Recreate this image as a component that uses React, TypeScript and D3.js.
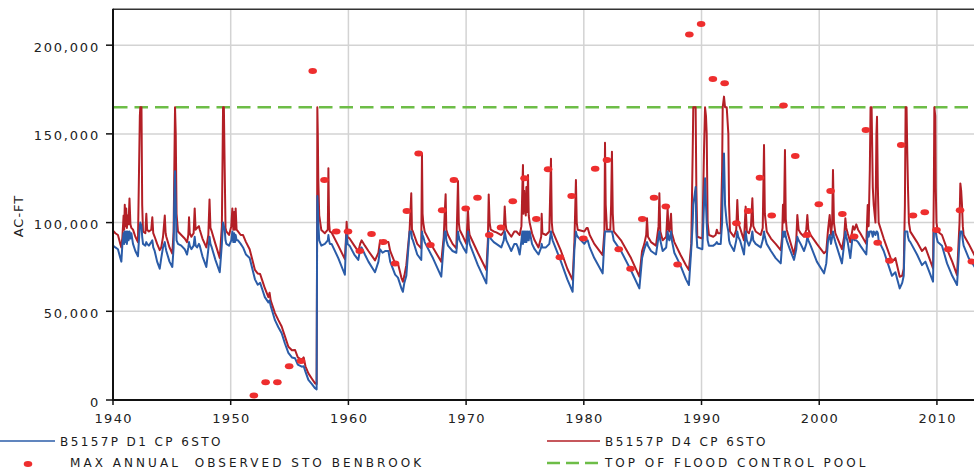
import React from "react";
import * as d3 from "d3";

// [decimal year, B5157P D1 storage, B5157P D4 storage] in 1,000 ac-ft
type Row = [number, number, number];

const rows1940s: Row[] = [
  [1940.0, 87, 95.5], [1940.2, 86, 94], [1940.42, 85, 93], [1940.62, 80, 88], [1940.71, 78, 86],
  [1940.8, 88, 92], [1940.9, 94, 104], [1940.95, 88, 96], [1941.0, 95, 110], [1941.06, 89, 98],
  [1941.12, 95, 108], [1941.18, 88, 97], [1941.25, 95, 104], [1941.32, 90, 99], [1941.4, 95, 113.6],
  [1941.48, 91, 99], [1941.56, 94, 97], [1941.7, 88, 96], [1941.9, 84, 92], [1942.12, 81, 89],
  [1942.28, 98, 160], [1942.32, 100, 165], [1942.42, 98, 165], [1942.48, 92, 110], [1942.55, 88, 95],
  [1942.75, 87, 94], [1942.83, 89, 105], [1942.9, 88, 96], [1943.05, 87, 95], [1943.25, 89, 96],
  [1943.34, 90, 103], [1943.42, 86, 94], [1943.54, 84, 92], [1943.75, 78, 88], [1943.97, 74, 84.5],
  [1944.1, 80, 86], [1944.25, 86, 92], [1944.4, 89, 104], [1944.47, 86, 94], [1944.53, 84, 92],
  [1944.8, 78, 86], [1945.04, 75, 82.6], [1945.15, 86, 95], [1945.2, 110, 125], [1945.27, 129, 165],
  [1945.33, 110, 150], [1945.4, 90, 105], [1945.52, 88, 95], [1945.8, 87, 93], [1946.09, 85, 91],
  [1946.29, 82, 89], [1946.4, 86, 93], [1946.46, 89, 103], [1946.52, 87, 94], [1946.66, 85, 92],
  [1946.85, 87, 94], [1946.94, 92, 108], [1947.02, 87, 96], [1947.14, 86, 97], [1947.3, 88, 98],
  [1947.37, 87, 96], [1947.6, 81, 91], [1947.93, 75, 86], [1948.1, 85, 93], [1948.2, 92, 113],
  [1948.28, 88, 97], [1948.39, 86, 95], [1948.7, 79, 88], [1949.07, 72, 80], [1949.25, 88, 98],
  [1949.35, 100, 165], [1949.42, 98, 165], [1949.49, 96, 130], [1949.56, 90, 97], [1949.63, 88, 95],
  [1949.86, 87, 93],
];

const rows1950s: Row[] = [
  [1950.05, 90, 98], [1950.14, 95, 108], [1950.22, 89, 96], [1950.3, 94, 106], [1950.36, 89, 96],
  [1950.42, 93, 108], [1950.5, 90, 96], [1950.62, 90, 95], [1950.85, 88, 93], [1951.05, 86, 93],
  [1951.3, 82, 89], [1951.61, 80, 85], [1951.8, 75, 80], [1952.06, 68, 73.3], [1952.3, 65, 71.3],
  [1952.5, 66, 71], [1952.7, 62, 67], [1952.9, 58, 63], [1953.2, 55, 58], [1953.3, 56, 60.5],
  [1953.4, 53, 56], [1953.76, 45, 49], [1954.05, 41, 45], [1954.33, 37.6, 41.4], [1954.6, 32, 36],
  [1954.9, 26.6, 30], [1955.2, 24, 28], [1955.47, 23.5, 28.2], [1955.7, 20, 24], [1956.04, 18.8, 22.6],
  [1956.2, 19, 24], [1956.35, 16, 19], [1956.6, 11.3, 15], [1956.9, 9, 12], [1957.17, 6.6, 9.4],
  [1957.3, 6, 9], [1957.34, 90, 95], [1957.36, 115, 165], [1957.4, 110, 150], [1957.44, 100, 125],
  [1957.52, 90, 104], [1957.7, 87, 95.8], [1958.0, 88, 94], [1958.25, 90, 96], [1958.3, 93, 130.6],
  [1958.36, 90, 100], [1958.42, 88, 95], [1958.57, 88, 94.4], [1959.14, 80, 87], [1959.7, 70.6, 79.4],
  [1959.8, 90, 92], [1959.85, 94, 100.5], [1959.92, 88, 92],
];

const rows1960s: Row[] = [
  [1960.1, 87, 91], [1960.5, 82, 87], [1960.84, 79, 83.7], [1961.0, 85, 88], [1961.12, 86, 90],
  [1961.4, 82, 87], [1961.7, 78, 84], [1962.26, 72, 78.7], [1962.55, 78, 83], [1962.69, 85, 90],
  [1962.9, 83, 88], [1963.15, 84, 89], [1963.4, 84, 89], [1963.55, 78, 84], [1963.97, 70.7, 77],
  [1964.21, 69, 77], [1964.5, 63, 69], [1964.63, 61, 66.7], [1964.75, 66, 70], [1964.92, 70, 76],
  [1965.2, 95, 95.8], [1965.34, 95, 116.5], [1965.4, 91, 96], [1965.48, 90, 95], [1965.85, 82, 88],
  [1966.19, 78.9, 85.5], [1966.25, 95, 139], [1966.3, 93, 105], [1966.36, 92, 100], [1966.48, 89, 94.9],
  [1967.18, 80, 86], [1967.89, 69.5, 77.9], [1968.1, 88, 92], [1968.18, 95, 105], [1968.26, 95, 116],
  [1968.32, 90, 96], [1968.46, 87, 93], [1968.85, 84, 88], [1969.17, 83, 85.5], [1969.31, 95, 123.4],
  [1969.38, 92, 100], [1969.45, 90, 96], [1969.75, 86, 92],
];

const rows1970s: Row[] = [
  [1970.02, 83, 88], [1970.16, 95, 107], [1970.24, 91, 96], [1970.3, 88, 93], [1971.0, 76, 83],
  [1971.72, 65.7, 73.3], [1971.85, 85, 90], [1971.92, 95, 115.9], [1972.0, 93, 100], [1972.09, 91, 96],
  [1972.35, 89, 95], [1972.57, 88, 94.5], [1972.99, 86, 93], [1973.2, 90, 95], [1973.28, 95, 109],
  [1973.36, 92, 99], [1973.42, 90, 96], [1973.84, 84, 92], [1974.1, 88, 95], [1974.27, 88, 95],
  [1974.4, 86, 94], [1974.55, 82, 93], [1974.7, 90, 98], [1974.78, 95, 120], [1974.83, 88, 132.4],
  [1974.88, 95, 105], [1974.93, 89, 118], [1974.97, 95, 110], [1975.02, 89, 112], [1975.07, 95, 104],
  [1975.12, 89, 120], [1975.17, 95, 106], [1975.22, 90, 115], [1975.26, 95, 126.8], [1975.32, 90, 104],
  [1975.4, 95, 100], [1975.6, 88, 94], [1975.82, 85, 90], [1976.15, 82, 86], [1976.38, 86, 92],
  [1976.42, 88, 105], [1976.48, 86, 94], [1976.78, 86, 93], [1977.07, 88, 95], [1977.21, 95, 136],
  [1977.28, 92, 100], [1977.35, 90, 95], [1978.06, 78, 84], [1978.6, 68, 74], [1979.05, 61, 67.6],
  [1979.2, 85, 89], [1979.33, 95, 124], [1979.4, 93, 100], [1979.48, 92, 96],
];

const rows1980s: Row[] = [
  [1980.04, 88, 95], [1980.25, 90, 97], [1980.33, 90, 97], [1980.5, 86, 93], [1980.89, 80, 88],
  [1981.6, 71.4, 81.7], [1981.75, 90, 95], [1981.8, 95, 145], [1981.86, 95, 110], [1981.97, 95, 96],
  [1982.25, 95, 96], [1982.32, 95, 110], [1982.39, 95, 140], [1982.46, 93, 105], [1982.54, 90, 95],
  [1983.16, 84, 90], [1984.01, 73, 80], [1984.72, 62.9, 69.5], [1984.95, 80, 84], [1985.14, 85, 88],
  [1985.3, 88, 93], [1985.37, 89, 102.4], [1985.45, 87, 92], [1985.71, 84, 89], [1986.13, 82, 87],
  [1986.35, 92, 98], [1986.42, 95, 116.5], [1986.5, 90, 95], [1986.7, 84, 90], [1987.0, 86, 92],
  [1987.12, 95, 108], [1987.2, 91, 96], [1987.27, 90, 95], [1987.41, 95, 105], [1987.48, 90, 94],
  [1987.69, 83, 89], [1988.2, 76, 82], [1988.68, 68, 76], [1988.93, 64.8, 73.3], [1989.13, 85, 88],
  [1989.25, 100, 140], [1989.3, 110, 165], [1989.5, 120, 165], [1989.56, 95, 120], [1989.64, 86, 92],
];

const rows1990s: Row[] = [
  [1990.07, 85, 91], [1990.21, 110, 140], [1990.3, 125, 165], [1990.38, 110, 160], [1990.44, 100, 150],
  [1990.52, 90, 100], [1990.63, 87, 93], [1991.0, 87, 92], [1991.2, 88, 93], [1991.3, 89, 96],
  [1991.4, 88, 94], [1991.63, 88, 94], [1991.75, 100, 130], [1991.8, 120, 165], [1991.91, 139, 171],
  [1992.0, 110, 165], [1992.14, 100, 165], [1992.28, 95, 150], [1992.34, 90, 110], [1992.42, 88, 95],
  [1992.76, 84, 92], [1992.95, 90, 96], [1993.04, 95, 112.7], [1993.12, 92, 100], [1993.27, 90, 97],
  [1993.61, 82, 90], [1993.75, 95, 109], [1993.85, 90, 95], [1994.03, 87, 94], [1994.2, 90, 98],
  [1994.32, 95, 113.7], [1994.4, 90, 98], [1994.6, 88, 95], [1995.03, 86, 93], [1995.2, 90, 97],
  [1995.31, 95, 143.7], [1995.38, 92, 105], [1995.54, 88, 95], [1995.9, 84, 91], [1996.3, 80, 88],
  [1996.73, 77, 84.5], [1996.85, 88, 92], [1996.92, 95, 110], [1997.0, 92, 100], [1997.09, 95, 140.9],
  [1997.16, 92, 102], [1997.24, 90, 96], [1997.5, 85, 90], [1997.86, 79, 82], [1998.05, 85, 90],
  [1998.14, 92, 104.3], [1998.25, 90, 96], [1998.42, 88, 94], [1998.71, 84, 92], [1998.9, 88, 96],
  [1998.99, 92, 104.3], [1999.08, 90, 96], [1999.27, 87, 93], [1999.8, 78, 88],
];

const rows2000s: Row[] = [
  [2000.41, 71.4, 82.7], [2000.6, 77, 84], [2000.75, 90, 96], [2000.89, 93, 104.3], [2001.0, 88, 93],
  [2001.1, 92, 100], [2001.17, 95, 129.6], [2001.25, 92, 100], [2001.37, 89, 94], [2001.93, 77, 85],
  [2002.12, 88, 92], [2002.22, 95, 102.4], [2002.3, 92, 97], [2002.42, 89, 94], [2002.64, 80, 89],
  [2002.8, 90, 95], [2002.87, 92, 98], [2003.0, 90, 96], [2003.15, 90, 99], [2003.3, 89, 96],
  [2003.49, 87, 94], [2004.0, 82, 88], [2004.12, 95, 109.9], [2004.2, 92, 98], [2004.3, 95, 130],
  [2004.36, 95, 165], [2004.45, 95, 165], [2004.55, 92, 120], [2004.63, 95, 110], [2004.78, 93, 100],
  [2004.86, 95, 150], [2004.91, 95, 159.7], [2004.98, 94, 120], [2005.05, 90, 100], [2005.48, 84, 91],
  [2006.18, 70, 77.9], [2006.47, 72, 80], [2006.84, 62.9, 69.5], [2007.05, 66, 70], [2007.18, 70, 74],
  [2007.28, 95, 110], [2007.34, 95, 165], [2007.42, 95, 165], [2007.48, 95, 140], [2007.54, 92, 120],
  [2007.62, 90, 100], [2007.74, 89, 94.9], [2008.31, 82, 89], [2008.73, 76, 84], [2009.02, 78, 86],
  [2009.67, 66.7, 74.2], [2009.74, 95, 120], [2009.78, 95, 165], [2009.86, 95, 160], [2009.9, 95, 120],
  [2009.96, 92, 100],
];

const rows2010s: Row[] = [
  [2010.07, 89, 95], [2010.43, 87, 93], [2010.86, 77, 85], [2011.3, 70, 78], [2011.71, 64.8, 70.4],
  [2011.92, 90, 100], [2011.99, 95, 122.1], [2012.06, 95, 118], [2012.13, 95, 110], [2012.2, 90, 98],
  [2012.27, 87, 93], [2012.7, 80, 88], [2013.12, 76, 82.6], [2013.3, 74, 80],
];

// max annual observed storage at Benbrook, 1952 onward (1,000 ac-ft)
const firstObsYear = 1952;
const observedMax = [
  2.5, 10, 10, 19, 22, 185.5, 124, 95, 95, 84,
  93.5, 89, 77, 106.5, 139, 87.3, 107, 124, 108, 114,
  93, 97.3, 112, 125, 102, 130, 80.4, 115, 91, 130.4,
  135.3, 85, 74, 102, 114, 109, 76.4, 206, 212, 181,
  178.5, 99.6, 106.5, 125.3, 104, 166, 137.5, 93, 110.3, 117.8,
  104.8, 92.2, 152.2, 88.7, 78.5, 143.7, 104, 105.8, 95.8, 85,
  107, 78,
];

const floodPoolTop = 165;
const xTicks = [1940, 1950, 1960, 1970, 1980, 1990, 2000, 2010];
const yTicks = [0, 50, 100, 150, 200];

const seriesLabels = {
  d1: "B5157P D1 CP 6STO",
  d4: "B5157P D4 CP 6STO",
  obs: "MAX ANNUAL  OBSERVED STO BENBROOK",
  pool: "TOP OF FLOOD CONTROL POOL",
};

const W = 974;
const H = 472;
const plot = { left: 113, right: 974, top: 9.7, bottom: 400 };

const BLUE = "#2b5ca8";
const RED = "#b31f26";
const DOT = "#ee2e2e";
const GREEN = "#6dbd47";
const FONT = "'DejaVu Sans', Verdana, sans-serif";

const App = () => {
  const rows = [
    ...rows1940s, ...rows1950s, ...rows1960s, ...rows1970s,
    ...rows1980s, ...rows1990s, ...rows2000s, ...rows2010s,
  ];

  const x = d3.scaleLinear().domain([1940, 2013.15]).range([plot.left, plot.right]);
  const y = d3.scaleLinear().domain([0, 220]).range([plot.bottom, plot.top]);

  const d1Line = d3.line<Row>().x((d) => x(d[0])).y((d) => y(d[1]));
  const d4Line = d3.line<Row>().x((d) => x(d[0])).y((d) => y(d[2]));

  const fmt = d3.format(",");

  return (
    <svg
      width={W}
      height={H}
      style={{ position: "absolute", left: 0, top: 0, background: "#fff" }}
      fontFamily={FONT}
    >
      <defs>
        <clipPath id="plotClip">
          <rect x={plot.left} y={plot.top} width={plot.right - plot.left} height={plot.bottom - plot.top} />
        </clipPath>
      </defs>

      {/* grid */}
      <g stroke="#d3d3d3" strokeWidth={1.5}>
        {yTicks.filter((t) => t > 0).map((t) => (
          <line key={t} x1={plot.left} x2={plot.right} y1={y(t)} y2={y(t)} />
        ))}
        {xTicks.filter((t) => t > 1940).map((t) => (
          <line key={t} x1={x(t)} x2={x(t)} y1={plot.top} y2={plot.bottom} />
        ))}
      </g>

      {/* top of flood control pool */}
      <line
        x1={plot.left + 1}
        x2={plot.right}
        y1={y(floodPoolTop)}
        y2={y(floodPoolTop)}
        stroke={GREEN}
        strokeWidth={2.6}
        strokeDasharray="13.5 7"
      />

      <g clipPath="url(#plotClip)" fill="none" strokeLinejoin="round">
        <path d={d4Line(rows) || ""} stroke={RED} strokeWidth={2} />
        <path d={d1Line(rows) || ""} stroke={BLUE} strokeWidth={2} />
      </g>

      <g fill={DOT}>
        {observedMax.map((v, i) => (
          <ellipse key={i} cx={x(firstObsYear + i) - 0.4} cy={y(v)} rx={4.3} ry={3} />
        ))}
      </g>

      {/* frame and axes */}
      <line x1={plot.left} x2={plot.right} y1={plot.top - 0.5} y2={plot.top - 0.5} stroke="#333" strokeWidth={1.6} />
      <line x1={plot.left} x2={plot.left} y1={plot.top - 1} y2={plot.bottom + 1} stroke="#111" strokeWidth={2} />
      <line x1={plot.left - 1} x2={plot.right} y1={plot.bottom} y2={plot.bottom} stroke="#111" strokeWidth={2} />

      <g fontSize={13} fill="#222">
        {yTicks.map((t) => (
          <g key={t}>
            <line x1={plot.left - 7} x2={plot.left} y1={y(t)} y2={y(t)} stroke="#111" strokeWidth={1.5} />
            <text x={plot.left - 13} y={y(t) + 6.5} textAnchor="end" letterSpacing={1.8}>
              {fmt(t * 1000)}
            </text>
          </g>
        ))}
        {xTicks.map((t) => (
          <g key={t}>
            <line x1={x(t)} x2={x(t)} y1={plot.bottom} y2={plot.bottom + 5} stroke="#111" strokeWidth={1.5} />
            <text x={x(t) + 0.7} y={plot.bottom + 23} textAnchor="middle" letterSpacing={1.3}>
              {t}
            </text>
          </g>
        ))}
        <text transform="translate(23,216) rotate(-90)" textAnchor="middle" letterSpacing={1}>
          AC-FT
        </text>
      </g>

      {/* legend */}
      <g fontSize={12} fill="#1a1a1a">
        <line x1={0} x2={55} y1={441} y2={441} stroke={BLUE} strokeWidth={1.6} />
        <text x={60} y={446} letterSpacing={2.4}>{seriesLabels.d1}</text>
        <line x1={547} x2={600} y1={441} y2={441} stroke={RED} strokeWidth={1.6} />
        <text x={605} y={446} letterSpacing={2.4}>{seriesLabels.d4}</text>
        <ellipse cx={28} cy={464} rx={4.3} ry={3} fill={DOT} />
        <text x={70} y={467} letterSpacing={3.05} xmlSpace="preserve">{seriesLabels.obs}</text>
        <line x1={547} x2={600} y1={463} y2={463} stroke={GREEN} strokeWidth={2.4} strokeDasharray="13 6" />
        <text x={605} y={467} letterSpacing={3.0}>{seriesLabels.pool}</text>
      </g>
    </svg>
  );
};

export default App;
